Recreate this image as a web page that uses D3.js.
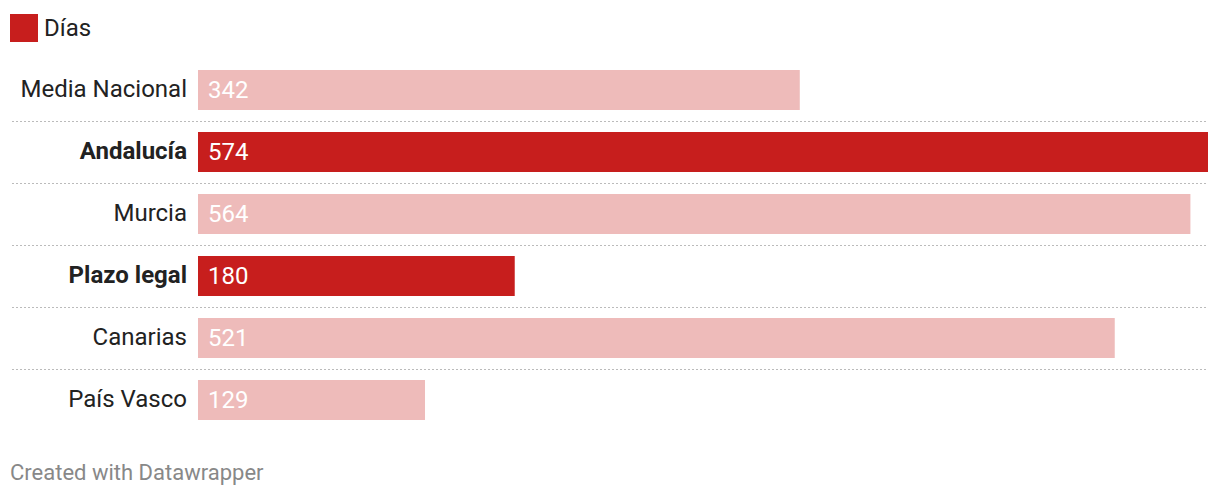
<!DOCTYPE html>
<html lang="es">
<head>
<meta charset="utf-8"/>
<title>Días</title>
<script src="https://cdnjs.cloudflare.com/ajax/libs/d3/7.8.5/d3.min.js"></script>
<style>
	body { margin: 0; background: #fff; }
	svg { display: block; font-family: Roboto, sans-serif; }
</style>
</head>
<body>
<div id="chart"></div>
<script>
	// data
	var regiones = ["Media Nacional", "Andalucía", "Murcia", "Plazo legal", "Canarias", "País Vasco"];
	var dias = [342, 574, 564, 180, 521, 129];
	var destacado = [false, true, false, true, false, false];

	var width = 1220, height = 496;
	var rojo = "#c71e1d", rosa = "#eebbba";

	var svg = d3.select("#chart").append("svg")
		.attr("width", width)
		.attr("height", height);

	// legend
	svg.append("rect")
		.attr("x", 10).attr("y", 14)
		.attr("width", 28).attr("height", 28)
		.attr("fill", rojo);
	svg.append("text")
		.attr("x", 44).attr("y", 36)
		.attr("font-size", 24)
		.attr("fill", "#222")
		.text("Días");

	var x = d3.scaleLinear()
		.domain([0, d3.max(dias)])
		.range([198, 1208]);

	var y = d3.scaleBand()
		.domain(regiones)
		.range([59, 431])
		.paddingInner(0.355)
		.paddingOuter(0.1775);

	var rows = svg.append("g").selectAll("g")
		.data(regiones)
		.enter().append("g");

	// dotted separators between rows
	rows.filter(function(d, i) { return i > 0; })
		.append("line")
		.attr("x1", 12).attr("x2", 1208)
		.attr("y1", function(d) { return y(d) - 10.5; })
		.attr("y2", function(d) { return y(d) - 10.5; })
		.attr("stroke", "#bbb")
		.attr("stroke-dasharray", "2,2");

	rows.append("rect")
		.attr("x", x(0))
		.attr("y", function(d) { return y(d); })
		.attr("width", function(d, i) { return x(dias[i]) - x(0); })
		.attr("height", y.bandwidth())
		.attr("fill", function(d, i) { return destacado[i] ? rojo : rosa; });

	rows.append("text")
		.attr("x", 187)
		.attr("y", function(d) { return y(d) + y.bandwidth() / 2 + 7; })
		.attr("text-anchor", "end")
		.attr("font-size", 24)
		.attr("font-weight", function(d, i) { return destacado[i] ? "bold" : "normal"; })
		.attr("fill", "#222")
		.text(function(d) { return d; });

	rows.append("text")
		.attr("x", x(0) + 10)
		.attr("y", function(d) { return y(d) + y.bandwidth() / 2 + 8; })
		.attr("font-size", 24)
		.attr("fill", "#fff")
		.text(function(d, i) { return dias[i]; });

	// footer
	svg.append("text")
		.attr("x", 10).attr("y", 480)
		.attr("font-size", 22)
		.attr("fill", "#888")
		.text("Created with Datawrapper");
</script>
</body>
</html>
